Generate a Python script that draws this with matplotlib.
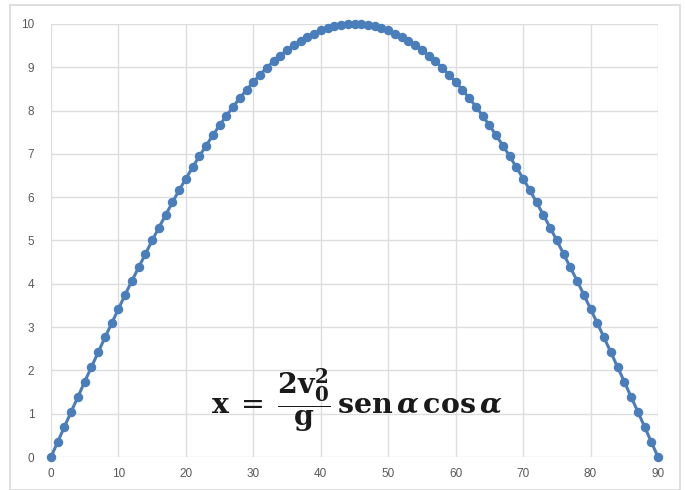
import matplotlib
matplotlib.use("Agg")
import matplotlib.pyplot as plt
from matplotlib.patches import Rectangle

angles = list(range(0, 91))
rising = [0.00, 0.35, 0.70, 1.05, 1.39, 1.74, 2.08, 2.42, 2.76, 3.09,
          3.42, 3.75, 4.07, 4.38, 4.69, 5.00, 5.30, 5.59, 5.88, 6.16,
          6.43, 6.69, 6.95, 7.19, 7.43, 7.66, 7.88, 8.09, 8.29, 8.48,
          8.66, 8.83, 8.99, 9.14, 9.27, 9.40, 9.51, 9.61, 9.70, 9.78,
          9.85, 9.90, 9.95, 9.98, 9.99, 10.00]
falling = [9.99, 9.98, 9.95, 9.90, 9.85, 9.78, 9.70, 9.61, 9.51, 9.40,
           9.27, 9.14, 8.99, 8.83, 8.66, 8.48, 8.29, 8.09, 7.88, 7.66,
           7.43, 7.19, 6.95, 6.69, 6.43, 6.16, 5.88, 5.59, 5.30, 5.00,
           4.69, 4.38, 4.07, 3.75, 3.42, 3.09, 2.76, 2.42, 2.08, 1.74,
           1.39, 1.05, 0.70, 0.35, 0.00]
distance = rising + falling
x_ticks = [0, 10, 20, 30, 40, 50, 60, 70, 80, 90]
y_ticks = [0, 1, 2, 3, 4, 5, 6, 7, 8, 9, 10]

W, H = 685, 490
fig = plt.figure(figsize=(W / 100, H / 100), dpi=100)
fig.patch.set_facecolor("white")

# outer chart border
fig.patches.append(Rectangle((10 / W, 0 / H), 670 / W, 485 / H,
                             transform=fig.transFigure, fill=False,
                             edgecolor="#D9D9D9", linewidth=1.2))

ax = fig.add_axes([51 / W, 33 / H, 607 / W, 433 / H])
ax.set_xlim(0, 90)
ax.set_ylim(0, 10)
ax.set_xticks(x_ticks)
ax.set_yticks(y_ticks)
ax.grid(True, color="#DDDDDD", linewidth=1.0)
ax.set_axisbelow(True)
for s in ax.spines.values():
    s.set_visible(False)
ax.tick_params(length=0, labelsize=8.5, labelcolor="#595959", pad=8)
ax.tick_params(axis="y", pad=12)
for lab in ax.get_xticklabels() + ax.get_yticklabels():
    lab.set_fontfamily("Liberation Sans")

ax.plot(angles, distance, color="#4A7EBB", linewidth=2.2, marker="o",
        markersize=5.8, clip_on=False, zorder=3)

plt.rcParams["mathtext.fontset"] = "dejavuserif"
fig.text(357 / W, 1 - 400 / H,
         r"$\mathbf{x}\;=\;\dfrac{\mathbf{2v}_{\mathbf{0}}^{\mathbf{2}}}{\mathbf{g}}\,\mathbf{sen}\,\boldsymbol{\alpha}\,\mathbf{cos}\,\boldsymbol{\alpha}$",
         fontsize=20.5, ha="center", va="center", color="#1a1a1a")

fig.savefig("out.png", dpi=100, facecolor="white")
